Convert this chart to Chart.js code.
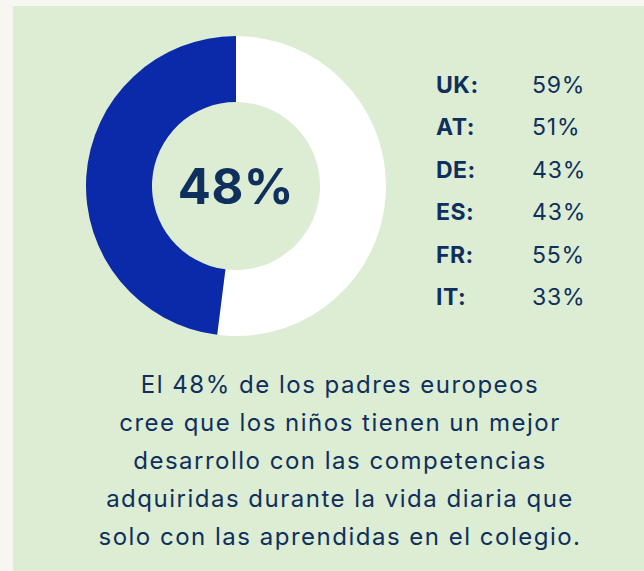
<!DOCTYPE html>
<html><head><meta charset="utf-8">
<script src="https://cdn.jsdelivr.net/npm/chart.js"></script>
<style>
html,body{margin:0;padding:0;}
body{width:644px;height:571px;background:#f8f6f3;position:relative;overflow:hidden;font-family:"Inter","Noto Sans",sans-serif;color:#0f2f5c;}
#panel{position:absolute;left:13px;top:6px;right:0;bottom:0;background:#dcedd3;}
#wrap{position:absolute;left:86px;top:36px;width:300px;height:300px;}
#center{position:absolute;left:86px;top:36px;width:300px;height:300px;display:flex;align-items:center;justify-content:center;font-weight:700;font-size:49px;letter-spacing:0.5px;color:#0f2f5c;pointer-events:none;}
#legend{position:absolute;left:436px;top:70px;}
.row{position:relative;height:42.4px;font-size:23px;line-height:30px;}
.row .k{position:absolute;left:0;font-weight:700;letter-spacing:0.5px;}
.row .v{position:absolute;left:96px;font-weight:400;letter-spacing:0.8px;}
#text{position:absolute;left:20px;width:640px;top:366px;text-align:center;font-size:24px;line-height:38px;letter-spacing:1.5px;}
</style></head>
<body>
<div id="panel"></div>
<div id="wrap"><canvas id="c"></canvas></div>
<div id="center"></div>
<div id="legend"></div>
<div id="text"></div>
<script>
const sliceLabels = ["Resto", "Padres europeos"];
const sliceValues = [52, 48];
const sliceColors = ["#ffffff", "#0a2aa9"];
const centerLabel = "48%";
const countries = ["UK:", "AT:", "DE:", "ES:", "FR:", "IT:"];
const countryValues = [59, 51, 43, 43, 55, 33];
const captionLines = [
  "El 48% de los padres europeos",
  "cree que los niños tienen un mejor",
  "desarrollo con las competencias",
  "adquiridas durante la vida diaria que",
  "solo con las aprendidas en el colegio."
];

document.getElementById('center').textContent = centerLabel;
const lg = document.getElementById('legend');
countries.forEach((c,i)=>{
  const r=document.createElement('div');r.className='row';
  r.innerHTML='<span class="k">'+c+'</span><span class="v">'+countryValues[i]+'%</span>';
  lg.appendChild(r);
});
document.getElementById('text').innerHTML = captionLines.join('<br>');

new Chart(document.getElementById('c'), {
  type: 'doughnut',
  data: { labels: sliceLabels, datasets: [{ data: sliceValues, backgroundColor: sliceColors, borderWidth: 0 }] },
  options: {
    responsive: true, maintainAspectRatio: false, animation: false,
    cutout: '56%',
    layout: { padding: 0 },
    plugins: { legend: { display: false }, tooltip: { enabled: false } }
  }
});
</script>
</body></html>
